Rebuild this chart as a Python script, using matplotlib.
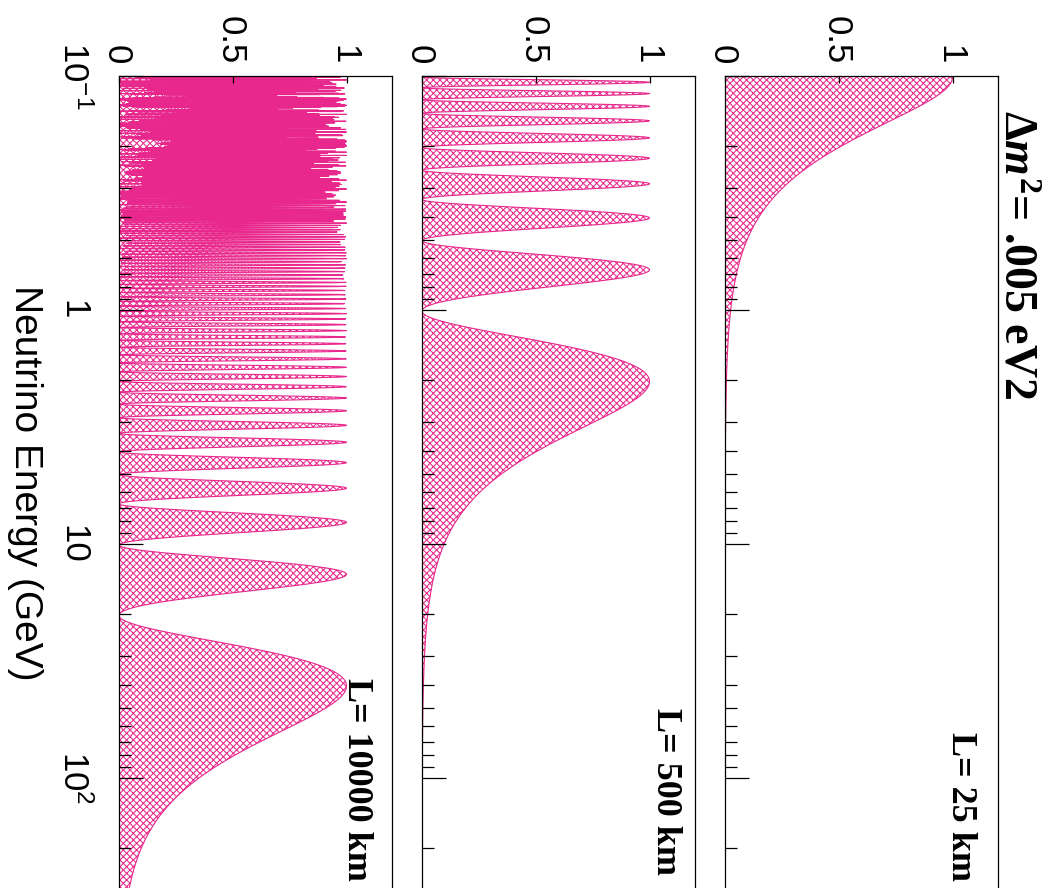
"""Two-flavour oscillation probability versus neutrino energy for three baselines."""

import matplotlib

matplotlib.use("Agg")
import matplotlib.pyplot as plt
import matplotlib.transforms as mtransforms
import numpy as np
from matplotlib.ticker import LogLocator, NullFormatter

# physics inputs (the labels on the panels)
dm2_ev2 = 0.005
baselines_km = [10000, 500, 25]  # panels from left to right
baseline_labels = ["L= 10000 km", "L= 500 km", "L= 25 km"]
title_text = r"$\Delta\mathit{m}^{2}$= .005 eV2"

energy_ticks = [0.1, 1, 10, 100]
energy_tick_labels = [r"$\mathregular{10^{-1}}$", "1", "10", r"$\mathregular{10^{2}}$"]
prob_ticks = [0, 0.5, 1]
prob_tick_labels = ["0", "0.5", "1"]

E_MIN, E_MAX = 0.1, 300.0
N_SAMPLES = 2500
PINK = "#E8288C"

plt.rcParams["font.family"] = ["Liberation Sans", "DejaVu Sans"]
plt.rcParams["mathtext.fontset"] = "custom"
plt.rcParams["mathtext.rm"] = "Liberation Serif:bold"
plt.rcParams["mathtext.it"] = "Liberation Serif:italic:bold"
plt.rcParams["mathtext.bf"] = "Liberation Serif:bold"
plt.rcParams["hatch.color"] = PINK
plt.rcParams["hatch.linewidth"] = 0.75

W, H = 1060, 888
fig = plt.figure(figsize=(W / 100, H / 100), dpi=100)

# panel frames in pixels: left edges, common width, top/bottom
panel_left_px = [119, 422, 725]
panel_w_px = 273
top_px, bottom_px = 76, 889.6
label_pos = [(0.839, 0.260), (0.861, 0.223), (0.832, 0.194)]

energy = np.logspace(np.log10(E_MIN), np.log10(E_MAX), N_SAMPLES)


def px_offset(dx, dy):
    return mtransforms.ScaledTranslation(dx / 100, dy / 100, fig.dpi_scale_trans)


axes = []
for i, (L, lab) in enumerate(zip(baselines_km, baseline_labels)):
    ax = fig.add_axes([
        panel_left_px[i] / W,
        1 - bottom_px / H,
        panel_w_px / W,
        (bottom_px - top_px) / H,
    ])
    prob = np.sin(1.27 * dm2_ev2 * L / energy) ** 2
    ax.fill_betweenx(energy, 0, prob, facecolor="white", edgecolor=PINK,
                     hatch="xxxxx", linewidth=0.8)

    ax.set_yscale("log")
    ax.set_ylim(E_MAX, E_MIN)
    ax.set_xlim(0, 1.2)

    ax.set_yticks(energy_ticks)
    ax.yaxis.set_minor_locator(LogLocator(base=10, subs=np.arange(2, 10)))
    ax.yaxis.set_minor_formatter(NullFormatter())
    ax.tick_params(axis="y", which="major", direction="in", length=17, width=0.9,
                   left=True, right=False, labelleft=False)
    ax.tick_params(axis="y", which="minor", direction="in", length=8.5, width=0.9,
                   left=True, right=False)
    ax.set_xticks(prob_ticks)
    ax.tick_params(axis="x", direction="in", length=5, width=0.9, top=True,
                   bottom=False, labeltop=False, labelbottom=False)
    for sp in ax.spines.values():
        sp.set_linewidth(0.9)

    # probability tick labels above each panel, turned to read downwards
    trans = mtransforms.blended_transform_factory(ax.transData, ax.transAxes)
    for v, t in zip(prob_ticks, prob_tick_labels):
        ax.text(v, 1, t, transform=trans + px_offset(-12, 12), fontsize=25,
                rotation=-90, rotation_mode="anchor", ha="right", va="baseline",
                clip_on=False)

    ax.text(label_pos[i][0], label_pos[i][1], lab, transform=ax.transAxes,
            fontsize=26, family="Liberation Serif", weight="bold",
            rotation=-90, rotation_mode="anchor", ha="left", va="baseline")
    axes.append(ax)

# energy tick labels only on the left-hand panel
ax0 = axes[0]
trans = mtransforms.blended_transform_factory(ax0.transAxes, ax0.transData)
for v, t in zip(energy_ticks, energy_tick_labels):
    ax0.text(0, v, t, transform=trans + px_offset(-56, 0), fontsize=25,
             rotation=-90, rotation_mode="anchor", ha="center", va="baseline",
             clip_on=False)

fig.text(15 / W, 1 - 483 / H, "Neutrino Energy (GeV)", fontsize=28,
         rotation=-90, rotation_mode="anchor", ha="center", va="baseline")

fig.text(1005 / W, 1 - 110 / H, title_text, fontsize=33,
         family="Liberation Serif", weight="bold",
         rotation=-90, rotation_mode="anchor", ha="left", va="baseline")

fig.savefig("out.png", dpi=100)
